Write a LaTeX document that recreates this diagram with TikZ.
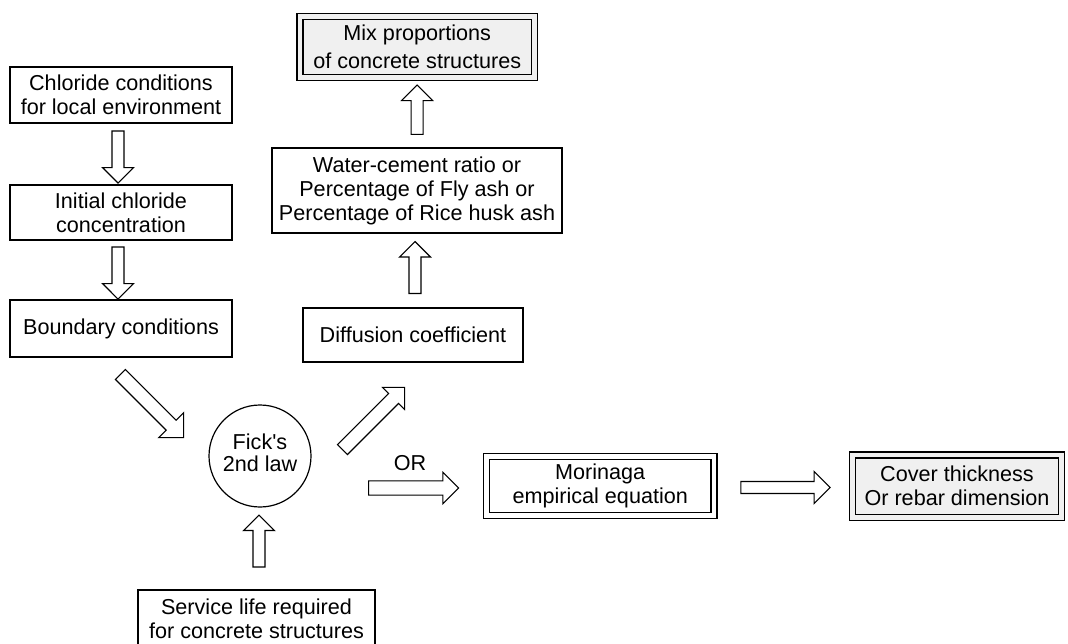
\documentclass[tikz,border=0pt]{standalone}
\usepackage{fontspec}
\setmainfont{Liberation Sans}
\usetikzlibrary{shapes.arrows,calc}
\tikzset{
  box/.style={draw, line width=0.9pt, inner sep=0pt, align=center, font=\fontsize{16.2}{18}\selectfont},
  dbox/.style={box, double, double distance=3.5pt, fill=gray!12, double=gray!12},
  mbox/.style={box, double, double distance=3.5pt},
  barrow/.style={single arrow, draw, line width=0.8pt, fill=white, inner xsep=0pt, inner ysep=4.1pt,
    single arrow tip angle=90, single arrow head extend=7.1pt, anchor=center},
  lbl/.style={font=\fontsize{16.2}{18}\selectfont}
}
\begin{document}
\begin{tikzpicture}[x=0.75pt,y=-0.75pt]
\useasboundingbox (0,0) rectangle (1068,643);
% left column
\node[box, minimum width={222*0.75pt}, minimum height={56*0.75pt}] (chl) at (121,95) {Chloride conditions\\for local environment};
\node[box, minimum width={222*0.75pt}, minimum height={55*0.75pt}] (init) at (121,212.5) {Initial chloride\\concentration};
\node[box, minimum width={222*0.75pt}, minimum height={57*0.75pt}] (bnd) at (121,328.5) {Boundary conditions};
% centre
\node[box, circle, minimum size={102*0.75pt}] (fick) at (260,456) {\raisebox{4.5pt}{\fontsize{16.2}{16.5}\selectfont\begin{tabular}{@{}c@{}}Fick\textquotesingle s\\2nd law\end{tabular}}};
\node[box, minimum width={237*0.75pt}, minimum height={58*0.75pt}] (serv) at (256.5,619) {Service life required\\for concrete structures};
\node[box, minimum width={220*0.75pt}, minimum height={54*0.75pt}] (diff) at (413,335) {Diffusion coefficient};
\node[box, minimum width={290*0.75pt}, minimum height={85*0.75pt}] (wc) at (417,190.5) {Water-cement ratio or\\Percentage of Fly ash or\\Percentage of Rice husk ash};
\node[dbox, minimum width={234.5*0.75pt}, minimum height={61*0.75pt}, font=\fontsize{16.2}{21}\selectfont] (mix) at (417.25,47) {Mix proportions\\of concrete structures};
% right
\node[mbox, minimum width={227.5*0.75pt}, minimum height={59*0.75pt}] (mor) at (600.25,486) {Morinaga\\empirical equation};
\node[dbox, minimum width={209*0.75pt}, minimum height={62.5*0.75pt}] (cov) at (957,486.25) {Cover thickness\\Or rebar dimension};
\node[lbl] (or) at (410,463) {OR};
% block arrows
\node[barrow, rotate=-90, minimum height=39pt] (a1) at ($(chl.south)!0.5!(init.north)+(-3,0)$) {};
\node[barrow, rotate=-90, minimum height=39pt] (a2) at ($(init.south)!0.5!(bnd.north)+(-3,0)$) {};
\node[barrow, rotate=-45, minimum height=67pt, inner ysep=4.9pt, single arrow head extend=7.9pt] (a3) at (149.5,403.5) {};
\node[barrow, rotate=45, minimum height=66pt, inner ysep=4.9pt, single arrow head extend=6.4pt] (a4) at (371,421) {};
\node[barrow, minimum height=67.5pt, inner ysep=4.9pt, single arrow head extend=6.4pt] (a5) at (410,488) {};
\node[barrow, rotate=90, minimum height=39pt] (a6) at (259,544) {};
\node[barrow, minimum height=67pt, single arrow head extend=7.5pt] (a7) at (782.5,487.5) {};
\node[barrow, rotate=90, minimum height=39pt] (a8) at ($(diff.north)!0.5!(wc.south)$) {};
\node[barrow, rotate=90, minimum height=37pt] (a9) at ($(wc.north)!0.5!(mix.south)$) {};
\end{tikzpicture}
\end{document}
